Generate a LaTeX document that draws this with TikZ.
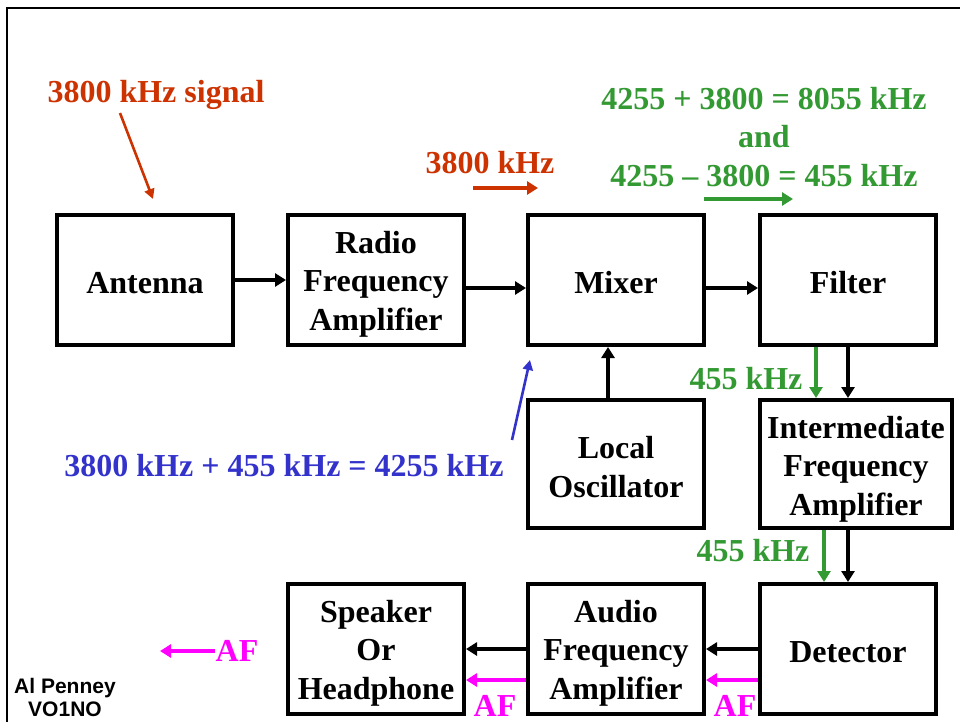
\documentclass[tikz,border=0pt]{standalone}
\usepackage{fontspec}
\setmainfont{Liberation Serif}
\newfontfamily\credfont{Liberation Sans}
\usetikzlibrary{arrows.meta}
\definecolor{sigred}{RGB}{204,51,0}
\definecolor{sumgreen}{RGB}{51,153,51}
\definecolor{oscblue}{RGB}{51,51,204}
\definecolor{afmag}{RGB}{255,0,255}
\tikzset{
  blk/.style={draw, line width=2pt, minimum width=88pt, minimum height=65pt, inner sep=0pt},
  lbl/.style={align=center, inner sep=0pt, font=\fontsize{16}{19.25}\selectfont\bfseries},
  conn/.style={line width=1.6pt, -{Triangle[length=5.5pt,width=6.5pt]}},
  tag/.style={line width=1.6pt, -{Triangle[length=5.5pt,width=6.5pt]}},
  thintag/.style={line width=1.3pt, -{Triangle[length=5pt,width=5pt]}}
}
\begin{document}
\begin{tikzpicture}[x=0.5pt,y=-0.5pt]
\useasboundingbox (0,0) rectangle (960,722);
\fill[white] (0,0) rectangle (960,722);
% frame
\draw[line width=1pt] (7,722) -- (7,8) -- (960,8);

% boxes
\node[blk] (ant) at (145,280) {};
\node[blk] (rf) at (376,280) {};
\node[blk] (mix) at (616,280) {};
\node[blk] (fil) at (848,280) {};
\node[blk, minimum height=64pt] (lo) at (616,464) {};
\node[blk, minimum height=64pt, minimum width=96pt] (ifa) at (856,464) {};
\node[blk] (det) at (848,649) {};
\node[blk] (afa) at (616,649) {};
\node[blk] (spk) at (376,649) {};

% box texts
\node[lbl] (antt) at ([yshift=-1.5pt]ant.center) {Antenna};
\node[lbl] (rft) at ([yshift=-2pt]rf.center) {Radio\\Frequency\\Amplifier};
\node[lbl] (mixt) at ([yshift=-1.5pt]mix.center) {Mixer};
\node[lbl] (filt) at ([yshift=-1.5pt]fil.center) {Filter};
\node[lbl] (lot) at ([yshift=-1.5pt]lo.center) {Local\\Oscillator};
\node[lbl] (ifat) at ([yshift=-2.5pt]ifa.center) {Intermediate\\Frequency\\Amplifier};
\node[lbl] (dett) at ([yshift=-1.5pt]det.center) {Detector};
\node[lbl] (afat) at ([yshift=-2pt]afa.center) {Audio\\Frequency\\Amplifier};
\node[lbl] (spkt) at ([yshift=-2pt]spk.center) {Speaker\\Or\\Headphone};

% helper coordinates for vertical links
\coordinate (fg) at ([xshift=-16pt]fil.south);
\coordinate (dg) at ([xshift=-12pt]det.north);

% signal path
\draw[conn] (ant.east) -- (rf.west);
\draw[conn] ([yshift=-4pt]rf.east) -- ([yshift=-4pt]mix.west);
\draw[conn] ([yshift=-4pt]mix.east) -- ([yshift=-4pt]fil.west);
\draw[conn] ([xshift=-4pt]lo.north) -- ([xshift=-4pt]mix.south);
\draw[conn] (fil.south) -- (fil.south |- ifa.north);
\draw[conn] (det.north |- ifa.south) -- (det.north);
\draw[conn] (det.west) -- (afa.east);
\draw[conn] (afa.west) -- (spk.east);

% green 455 kHz markers
\draw[tag, sumgreen] (fg) -- (fg |- ifa.north);
\draw[tag, sumgreen] (dg |- ifa.south) -- (dg);
\node[lbl, text=sumgreen] (g1) at (746,379) {455 kHz};
\node[lbl, text=sumgreen] (g2) at (753,551) {455 kHz};

% magenta AF markers
\draw[tag, afmag] ([yshift=-15.5pt]det.west) -- ([yshift=-15.5pt]afa.east);
\draw[tag, afmag] ([yshift=-15.5pt]afa.west) -- ([yshift=-15.5pt]spk.east);
\node[lbl, text=afmag] (af1) at (735,706) {AF};
\node[lbl, text=afmag] (af2) at (495,706) {AF};
\node[lbl, text=afmag] (af3) at (237,651) {AF};
\coordinate (af3end) at (160,650);
\draw[tag, afmag] (af3.west) -- (af3.west -| af3end);

% red labels
\node[lbl, text=sigred] (sig) at (156,95) {3800 kHz signal};
\coordinate (sigs) at (120,113);
\coordinate (sige) at (153,199);
\draw[thintag, sigred] (sigs) -- (sige);
\node[lbl, text=sigred] (rfl) at (490,163) {3800 kHz};
\coordinate (rfs) at (473,188);
\coordinate (rfe) at (538,188);
\draw[tag, sigred] (rfs) -- (rfe);

% green mixing products
\node[lbl, text=sumgreen] (prod) at (764,137) {4255 + 3800 = 8055 kHz\\and\\4255 -- 3800 = 455 kHz};
\coordinate (ps) at (704,199);
\coordinate (pe) at (793,199);
\draw[tag, sumgreen] (ps) -- (pe);

% blue oscillator label
\node[lbl, text=oscblue] (osc) at (284,466) {3800 kHz + 455 kHz = 4255 kHz};
\coordinate (os) at (512,440);
\coordinate (oe) at (530,360);
\draw[thintag, oscblue] (os) -- (oe);

% credit
\node[align=center, inner sep=0pt, font=\credfont\fontsize{10.5}{11.5}\selectfont\bfseries] (cred) at (65,697) {Al Penney\\VO1NO};
\end{tikzpicture}
\end{document}
